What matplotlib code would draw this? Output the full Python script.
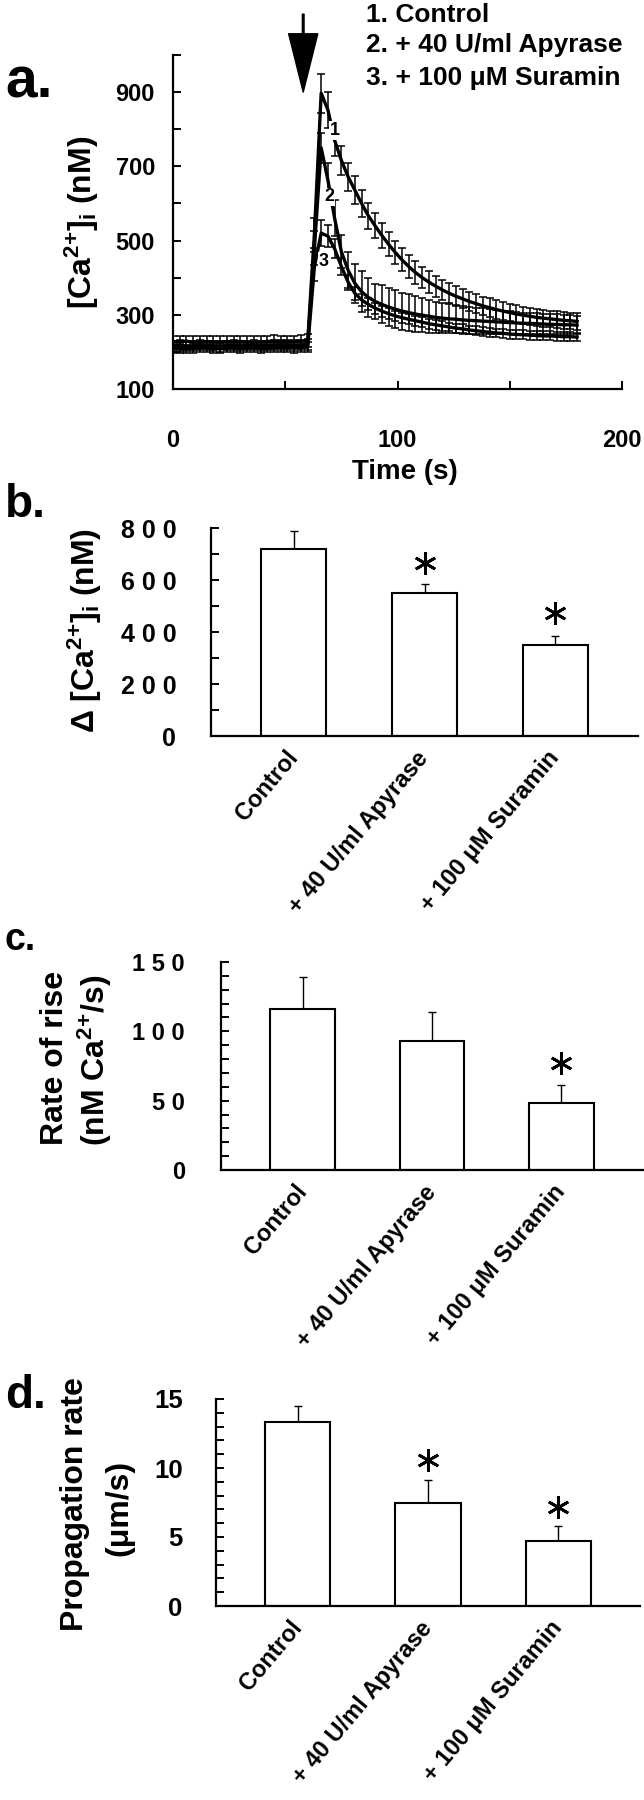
import matplotlib
matplotlib.use("Agg")
import matplotlib.pyplot as plt
import numpy as np
from matplotlib.ticker import FixedLocator, FuncFormatter

plt.rcParams['font.family'] = ['Liberation Sans', 'DejaVu Sans']
plt.rcParams['font.weight'] = 'bold'
plt.rcParams['mathtext.fontset'] = 'custom'
plt.rcParams['mathtext.rm'] = 'Liberation Sans:bold'
plt.rcParams['mathtext.it'] = 'Liberation Sans:bold'
plt.rcParams['mathtext.bf'] = 'Liberation Sans:bold'

# ---- panel a : time course ----
time_s = list(range(0, 181, 3))

control_mean = [228, 227, 229, 226, 227, 228, 227, 226, 228, 227,
                228, 227, 226, 227, 228, 229, 228, 227, 228, 229,
                230,
                520, 897, 852, 770, 716, 672, 636, 600, 567, 540,
                514, 490, 468, 448, 430, 414, 400, 388, 377, 367,
                358, 350, 343, 336, 330, 324, 319, 314, 310, 306,
                302, 299, 296, 293, 291, 289, 287, 285, 284, 282]
control_sem = [16, 16, 15, 16, 16, 15, 16, 16, 15, 16,
               16, 15, 16, 16, 15, 16, 16, 15, 16, 16,
               17,
               40, 52, 48, 42, 40, 38, 37, 36, 35, 34,
               33, 32, 31, 31, 30, 30, 29, 29, 28, 28,
               27, 27, 26, 26, 26, 25, 25, 25, 24, 24,
               24, 23, 23, 23, 23, 22, 22, 22, 22, 22]

apyrase_mean = [216, 217, 215, 216, 218, 217, 216, 215, 217, 218,
                216, 217, 218, 216, 217, 218, 219, 218, 217, 218,
                220,
                480, 750, 663, 560, 470, 420, 385, 362, 347, 336,
                328, 321, 315, 310, 306, 302, 299, 296, 293, 291,
                289, 288, 286, 285, 284, 283, 282, 281, 280, 279,
                278, 277, 277, 276, 275, 274, 274, 273, 273, 272]
apyrase_sem = [14, 14, 13, 14, 14, 13, 14, 14, 13, 14,
               14, 13, 14, 14, 13, 14, 14, 13, 14, 14,
               15,
               45, 40, 45, 48, 45, 49, 53, 55, 52, 47,
               51, 52, 51, 50, 51, 48, 46, 44, 42, 40,
               39, 38, 37, 36, 35, 34, 33, 32, 31, 30,
               30, 29, 29, 28, 28, 27, 27, 26, 26, 25]

suramin_mean = [209, 210, 208, 209, 211, 210, 209, 208, 210, 211,
                209, 210, 211, 209, 210, 211, 212, 211, 210, 211,
                213,
                430, 520, 512, 478, 430, 388, 358, 340, 328, 318,
                310, 303, 297, 292, 288, 284, 280, 276, 273, 270,
                267, 264, 262, 259, 257, 255, 253, 251, 250, 248,
                247, 246, 245, 244, 243, 243, 242, 241, 241, 240]
suramin_sem = [12, 12, 11, 12, 12, 11, 12, 12, 11, 12,
               12, 11, 12, 12, 11, 12, 12, 11, 12, 12,
               13,
               40, 35, 30, 25, 22, 20, 18, 17, 16, 15,
               15, 14, 14, 14, 13, 13, 13, 13, 13, 13,
               12, 12, 12, 12, 12, 12, 12, 12, 12, 12,
               12, 12, 12, 12, 12, 12, 12, 12, 12, 12]

legend_lines = ["1. Control", "2. + 40 U/ml Apyrase", "3. + 100 \u03bcM Suramin"]

# ---- bar panels ----
groups = ["Control", "+ 40 U/ml Apyrase", "+ 100 \u03bcM Suramin"]
delta_ca = [720, 549, 350]
delta_ca_err = [67, 35, 36]
rise_rate = [116, 93, 48]
rise_rate_err = [23, 21, 13]
prop_rate = [13.3, 7.5, 4.7]
prop_rate_err = [1.2, 1.6, 1.1]

W, H = 644, 1800
fig = plt.figure(figsize=(W / 100, H / 100), dpi=100)

CA = r'[Ca$^{2{+}}$]$_{i}$'  # superscript without operator spacing


def rect(left, top, right, bottom):
    # pixel box -> figure fraction
    return [left / W, 1 - bottom / H, (right - left) / W, (bottom - top) / H]


def ftext(x, y, s, **kw):
    fig.text(x / W, 1 - y / H, s, **kw)


# panel a
ax = fig.add_axes(rect(173, 55, 622, 389))
series = [(control_mean, control_sem), (apyrase_mean, apyrase_sem), (suramin_mean, suramin_sem)]
for m, e in series:
    ax.errorbar(time_s, m, yerr=e, color='black', lw=2.4, elinewidth=1.1,
                capsize=2.6, capthick=1.1, zorder=3)
ax.set_xlim(0, 200)
ax.set_ylim(100, 1000)
ax.spines[['top', 'right']].set_visible(False)
for s in ['left', 'bottom']:
    ax.spines[s].set_linewidth(1.6)
ax.yaxis.set_major_locator(FixedLocator(range(100, 1001, 100)))
ax.yaxis.set_major_formatter(FuncFormatter(lambda v, p: str(int(v)) if v in (100, 300, 500, 700, 900) else ""))
ax.xaxis.set_major_locator(FixedLocator([0, 50, 100, 150, 200]))
ax.xaxis.set_major_formatter(FuncFormatter(lambda v, p: str(int(v)) if v in (0, 100, 200) else ""))
ax.tick_params(axis='y', direction='in', length=6, width=1.4, pad=13, labelsize=16)
ax.tick_params(axis='x', direction='in', length=6, width=1.4, pad=29, labelsize=16)
for lab in ax.get_xticklabels() + ax.get_yticklabels():
    lab.set_family(['Liberation Sans Narrow', 'Liberation Sans', 'DejaVu Sans'])
    lab.set_fontsize(17)

# curve numbers
for num, tx, ty in [("1", 72, 797), ("2", 69.5, 618), ("3", 67, 443)]:
    ax.text(tx, ty, num, fontsize=13, ha='center', va='center', zorder=5,
            bbox=dict(facecolor='white', edgecolor='none', pad=0.5))

# stimulus arrow
ax.annotate('', xy=(58, 900), xytext=(58, 1110), annotation_clip=False,
            arrowprops=dict(facecolor='black', edgecolor='black', width=1.2,
                            headwidth=21, headlength=42, shrink=0))

for i, line in enumerate(legend_lines):
    ftext(366, [15, 45, 78][i], line, fontsize=19, va='center', ha='left')

ftext(82, 222, CA + ' (nM)', fontsize=23, rotation=90, ha='center', va='center')
ftext(405, 472, 'Time (s)', fontsize=20, ha='center', va='center')


def spaced(v):
    return " ".join(str(int(v)))


def bar_panel(box, vals, errs, top, step, labelled, stars, fs, pad, spread):
    ax = fig.add_axes(rect(*box))
    x = np.arange(len(vals))
    ax.bar(x, vals, width=0.5, color='white', edgecolor='black', linewidth=1.5, zorder=2)
    ax.errorbar(x, vals, yerr=[np.zeros(len(errs)), errs], fmt='none', ecolor='black',
                elinewidth=1.0, capsize=3, capthick=1.0, zorder=1)
    for i, sy in stars:
        ax.plot(i, sy, marker=(6, 2, 0), markersize=16, color='black', mew=2.0)
    ax.set_xlim(-0.63, 2.63)
    ax.set_ylim(0, top)
    ax.spines[['top', 'right']].set_visible(False)
    for s in ['left', 'bottom']:
        ax.spines[s].set_linewidth(1.6)
    ax.yaxis.set_major_locator(FixedLocator(np.arange(0, top + step / 2, step)))
    if spread:
        fmt = lambda v, p: spaced(v) if round(v, 3) in labelled else ""
    else:
        fmt = lambda v, p: str(int(v)) if round(v, 3) in labelled else ""
    ax.yaxis.set_major_formatter(FuncFormatter(fmt))
    ax.tick_params(axis='y', direction='in', length=6, width=1.4, pad=pad, labelsize=fs)
    ax.set_xticks(x)
    ax.set_xticklabels(groups, rotation=50, ha='right', va='center',
                       rotation_mode='anchor', fontsize=17)
    ax.tick_params(axis='x', length=0, pad=13)
    return ax


# panel b
bar_panel((211, 528, 638, 736), delta_ca, delta_ca_err, 800, 100,
          (0, 200, 400, 600, 800), [(1, 665), (2, 473)], 18, 25, True)
ftext(85, 630, r'$\Delta$ ' + CA + ' (nM)', fontsize=23, rotation=90, ha='center', va='center')

# panel c
bar_panel((221, 962, 643, 1170), rise_rate, rise_rate_err, 150, 10,
          (0, 50, 100, 150), [(2, 77)], 17, 26, True)
ftext(55, 1058, 'Rate of rise', fontsize=23, rotation=90, ha='center', va='center')
ftext(95, 1060, r'(nM Ca$^{2{+}}$/s)', fontsize=23, rotation=90, ha='center', va='center')

# panel d
bar_panel((216, 1399, 640, 1606), prop_rate, prop_rate_err, 15, 1,
          (0, 5, 10, 15), [(1, 10.6), (2, 7.2)], 18.5, 24, False)
ftext(75, 1504, 'Propagation rate', fontsize=23, rotation=90, ha='center', va='center')
ftext(119, 1508, '(\u03bcm/s)', fontsize=23, rotation=90, ha='center', va='center')

# panel letters
ftext(5, 97, 'a.', fontsize=41, va='baseline')
ftext(5, 517, 'b.', fontsize=33, va='baseline')
ftext(5, 950, 'c.', fontsize=27, va='baseline')
ftext(5, 1408, 'd.', fontsize=33, va='baseline')

fig.savefig('out.png', dpi=100)
